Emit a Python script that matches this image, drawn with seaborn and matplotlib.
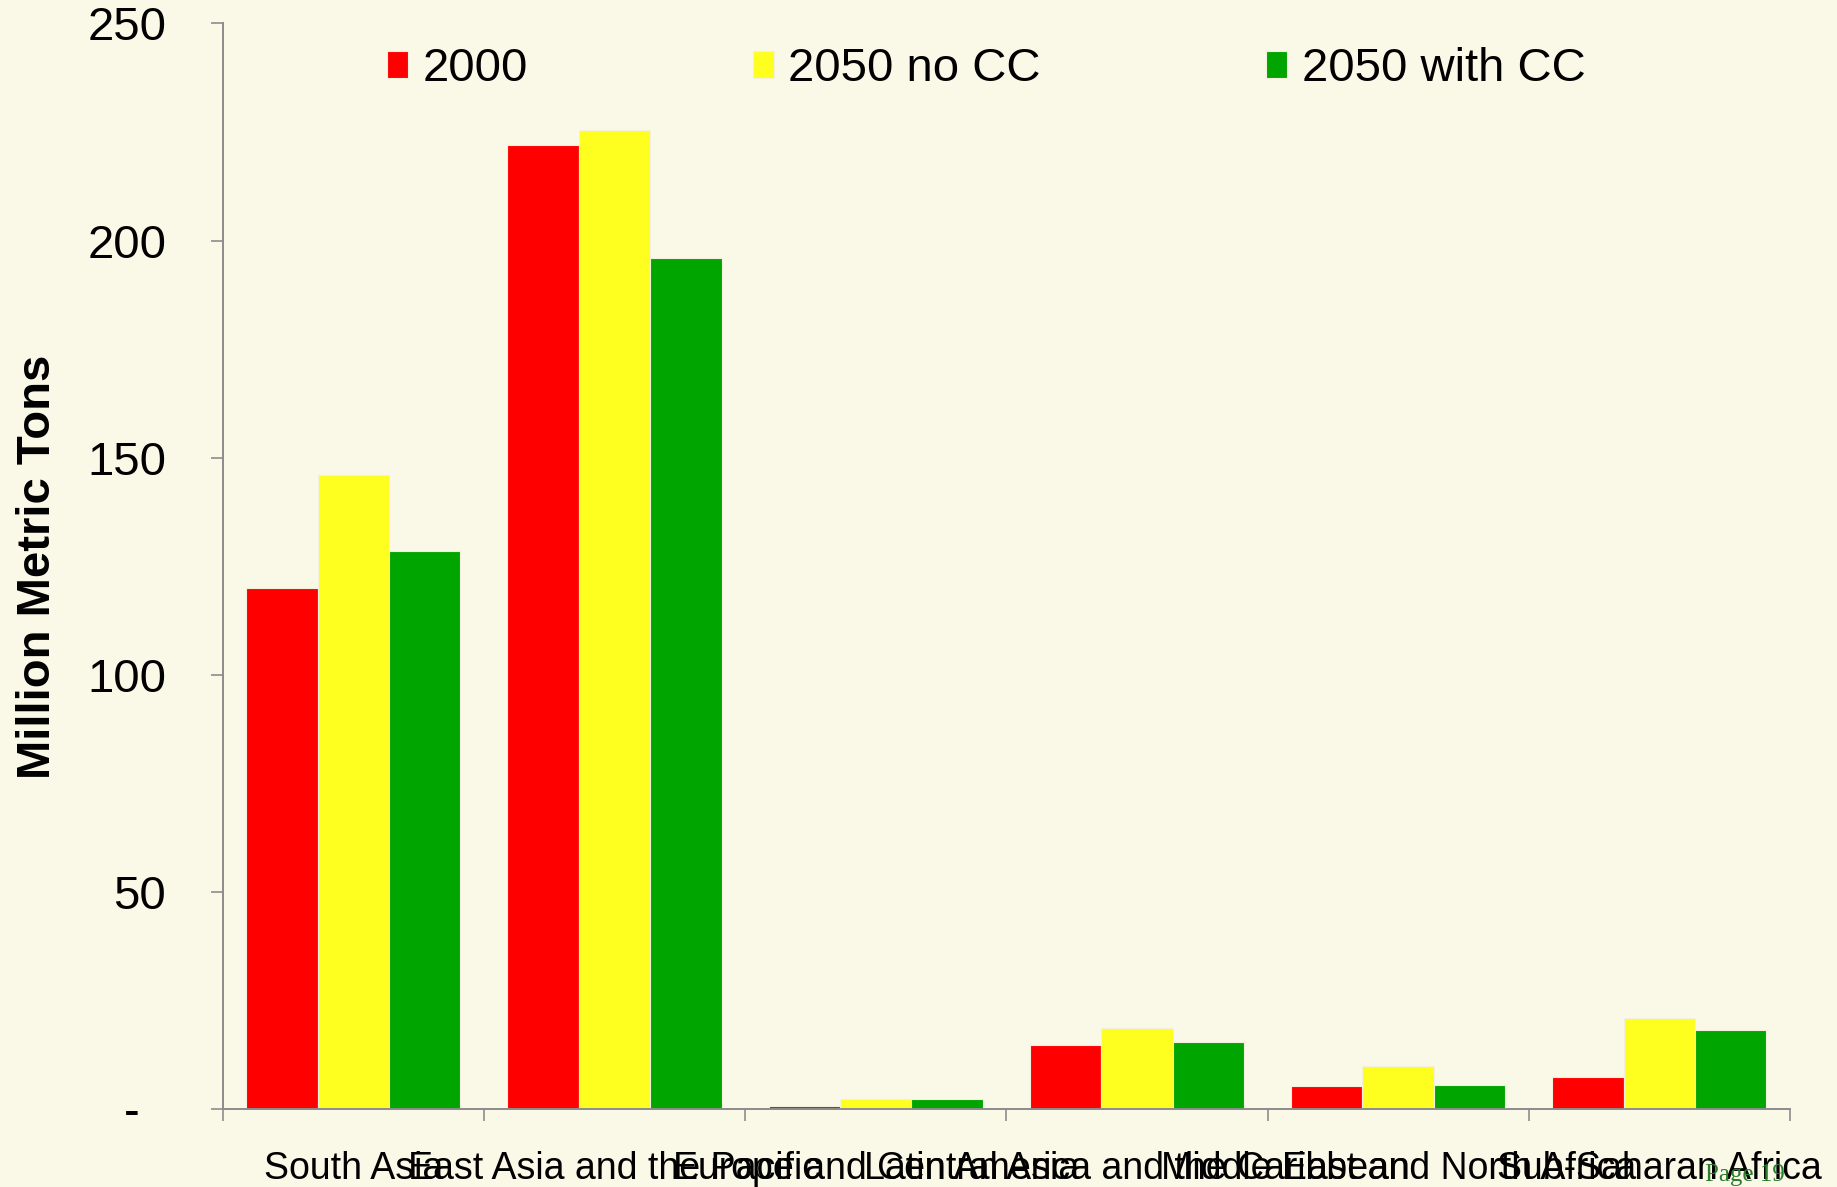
import matplotlib
matplotlib.use("Agg")
import matplotlib.pyplot as plt
import seaborn as sns
import pandas as pd

# Regional totals, million metric tons
regions = [
    "South Asia",
    "East Asia and the Pacific",
    "Europe and Central Asia",
    "Latin America and the Caribbean",
    "Middle East and North Africa",
    "Sub-Saharan Africa",
]
scenarios = ["2000", "2050 no CC", "2050 with CC"]
values_2000 = [120.0, 222.0, 0.9, 14.8, 5.5, 7.4]
values_2050_no_cc = [146.0, 225.5, 2.4, 18.7, 10.1, 21.0]
values_2050_with_cc = [128.5, 196.0, 2.5, 15.6, 5.7, 18.3]
y_ticks = [0, 50, 100, 150, 200, 250]
y_tick_labels = ["-  ", "50", "100", "150", "200", "250"]

bar_colors = ["#FF0000", "#FFFF1F", "#00A500"]
background = "#FAF8E6"
axis_gray = "#8C8C8C"

df = pd.DataFrame({
    "region": regions * 3,
    "scenario": [scenarios[0]] * 6 + [scenarios[1]] * 6 + [scenarios[2]] * 6,
    "value": values_2000 + values_2050_no_cc + values_2050_with_cc,
})

sns.set_style("ticks")
plt.rcParams["font.family"] = ["Liberation Sans", "DejaVu Sans"]
plt.rcParams["text.color"] = "black"
plt.rcParams["axes.labelcolor"] = "black"
plt.rcParams["xtick.labelcolor"] = "black"
plt.rcParams["ytick.labelcolor"] = "black"

fig = plt.figure(figsize=(18.37, 11.87), dpi=100, facecolor=background)
ax = fig.add_axes([0.1212, 0.0653, 0.8532, 0.915], facecolor=background)

sns.barplot(
    data=df, x="region", y="value", hue="scenario",
    order=regions, hue_order=scenarios, palette=bar_colors,
    saturation=1, width=0.82, errorbar=None,
    edgecolor="#F3F1DC", linewidth=0.8, ax=ax,
)

ax.set_xlim(-0.5, 5.5)
ax.set_ylim(0, 250)

# Boundary ticks between groups, labels centred under each group
ax.set_xticks([i - 0.5 for i in range(len(regions) + 1)],
              labels=[""] * (len(regions) + 1))
ax.set_xticks(range(len(regions)), labels=regions, minor=True)
ax.tick_params(axis="x", which="major", length=8.6, width=1.2,
               color=axis_gray, direction="out")
ax.tick_params(axis="x", which="minor", length=0, pad=30,
               labelsize=27, labelcolor="black")

ax.set_yticks(y_ticks, labels=y_tick_labels)
ax.tick_params(axis="y", length=8.6, width=1.2, color=axis_gray,
               pad=32, labelsize=34, labelcolor="black")

for side in ("top", "right"):
    ax.spines[side].set_visible(False)
for side in ("left", "bottom"):
    ax.spines[side].set_color(axis_gray)
    ax.spines[side].set_linewidth(1.4)

ax.set_xlabel("")
ax.set_ylabel("Million Metric Tons", fontsize=34, fontweight="bold",
              va="center", color="black")
ax.yaxis.set_label_coords(-0.118, 0.5)

handles, labels = ax.get_legend_handles_labels()
leg = ax.legend(
    handles, labels, loc="center left",
    bbox_to_anchor=(387 / 1837, 1 - 69 / 1187),
    bbox_transform=fig.transFigure, ncol=3, frameon=False,
    fontsize=34, handlelength=0.45, handleheight=0.5,
    handletextpad=0.3, columnspacing=4.77, borderpad=0, borderaxespad=0,
)
for t in leg.get_texts():
    t.set_color("black")

fig.text(0.928, 0.005, "Page 19", family=["Liberation Serif", "DejaVu Serif"],
         fontsize=18, color="#2A7F2A", ha="left", va="baseline")

fig.savefig("out.png", dpi=100, facecolor=background)
